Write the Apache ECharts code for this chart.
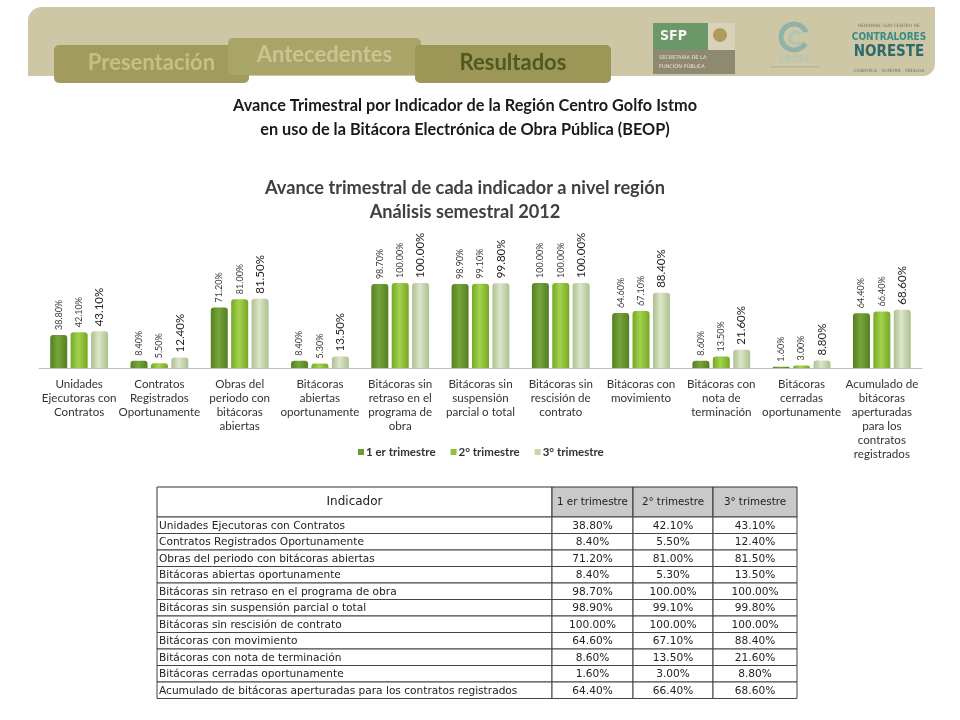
<!DOCTYPE html>
<html><head><meta charset="utf-8">
<script src="https://cdn.jsdelivr.net/npm/echarts@6/dist/echarts.min.js"></script>
<style>html,body{margin:0;padding:0;background:#fff}#c{width:960px;height:720px}</style>
</head><body><div id="c"></div>
<script>
const categories = [
  'Unidades\nEjecutoras con\nContratos',
  'Contratos\nRegistrados\nOportunamente',
  'Obras del\nperiodo con\nbitácoras\nabiertas',
  'Bitácoras\nabiertas\noportunamente',
  'Bitácoras sin\nretraso en el\nprograma de\nobra',
  'Bitácoras sin\nsuspensión\nparcial o total',
  'Bitácoras sin\nrescisión de\ncontrato',
  'Bitácoras con\nmovimiento',
  'Bitácoras con\nnota de\nterminación',
  'Bitácoras\ncerradas\noportunamente',
  'Acumulado de\nbitácoras\naperturadas\npara los\ncontratos\nregistrados'
];
const q1 = [38.8, 8.4, 71.2, 8.4, 98.7, 98.9, 100.0, 64.6, 8.6, 1.6, 64.4];
const q2 = [42.1, 5.5, 81.0, 5.3, 100.0, 99.1, 100.0, 67.1, 13.5, 3.0, 66.4];
const q3 = [43.1, 12.4, 81.5, 13.5, 100.0, 99.8, 100.0, 88.4, 21.6, 8.8, 68.6];
const seriesNames = ['1 er trimestre', '2° trimestre', '3° trimestre'];
const tableHeaders = ['Indicador', '1 er trimestre', '2° trimestre', '3° trimestre'];
const tabs = ['Presentación', 'Antecedentes', 'Resultados'];
const pageTitle = ['Avance Trimestral por Indicador de la Región Centro Golfo Istmo', 'en uso de la Bitácora Electrónica de Obra Pública (BEOP)'];
const chartTitle = ['Avance trimestral de cada indicador a nivel región', 'Análisis semestral 2012'];

const chart = echarts.init(document.getElementById('c'), null, {renderer: 'canvas'});
const fmt = v => v.toFixed(2) + '%';
const grad = (edge, mid) => new echarts.graphic.LinearGradient(0, 0, 1, 0, [
  {offset: 0, color: edge}, {offset: 0.45, color: mid}, {offset: 1, color: edge}]);
const seriesStyles = [
  {color: grad('#557f22', '#76a53a'), legend: '#6b9a2e', size: 9, lc: '#3a3a3a'},
  {color: grad('#76a825', '#a3d24e'), legend: '#8fc23a', size: 9, lc: '#3a3a3a'},
  {color: grad('#aebf90', '#dbe6c8'), legend: '#c5d6a8', size: 11.5, lc: '#222'}
];
const allData = [q1, q2, q3];

// ---------- graphic: header, table ----------
const g = [];
g.push({type: 'rect', shape: {x: 28, y: 7, width: 907, height: 69, r: [14, 0, 12, 0]}, style: {fill: '#cdc7a6'}, z: 1});
const tabBoxes = [
  {x: 54, y: 45, w: 195, h: 38, fill: '#a19c5e', tc: '#c6bf86', ty: 63, z: 2},
  {x: 228, y: 38, w: 193, h: 37, fill: '#a9a468', tc: '#cac493', ty: 55, z: 3},
  {x: 415, y: 45, w: 196, h: 38, fill: '#9c9657', tc: '#4e5a1f', ty: 63, z: 4}
];
tabBoxes.forEach((t, i) => {
  g.push({type: 'rect', shape: {x: t.x, y: t.y, width: t.w, height: t.h, r: 5}, style: {fill: t.fill}, z: t.z});
  g.push({type: 'text', x: t.x + t.w / 2, y: t.ty, z: t.z, style: {text: tabs[i], fill: t.tc, font: 'bold 22px Lato', align: 'center', verticalAlign: 'middle'}});
});
// SFP logo
g.push({type: 'rect', shape: {x: 653, y: 23, width: 55, height: 27}, style: {fill: '#6a9868'}, z: 2});
g.push({type: 'text', x: 660, y: 36, z: 3, style: {text: 'SFP', fill: '#f4f4f0', font: 'bold 14px "DejaVu Sans Condensed", "DejaVu Sans"', verticalAlign: 'middle'}});
g.push({type: 'rect', shape: {x: 708, y: 23, width: 27, height: 27}, style: {fill: '#d8d2b8'}, z: 2});
g.push({type: 'circle', shape: {cx: 720, cy: 35, r: 7}, style: {fill: '#b09a60'}, z: 3});
g.push({type: 'rect', shape: {x: 653, y: 50, width: 82, height: 24}, style: {fill: '#8e8a72'}, z: 2});
g.push({type: 'text', x: 659, y: 58, z: 3, style: {text: 'SECRETARÍA DE LA', fill: '#e6e2d0', font: '5px "DejaVu Sans"', verticalAlign: 'middle'}});
g.push({type: 'text', x: 659, y: 67, z: 3, style: {text: 'FUNCIÓN PÚBLICA', fill: '#e6e2d0', font: '5px "DejaVu Sans"', verticalAlign: 'middle'}});
// CPCEF logo
g.push({type: 'arc', shape: {cx: 794, cy: 37, r: 13, startAngle: 0.5, endAngle: 5.9}, style: {stroke: '#8fb3a8', lineWidth: 5, fill: null}, z: 2});
g.push({type: 'arc', shape: {cx: 796, cy: 38, r: 6, startAngle: 0.7, endAngle: 5.6}, style: {stroke: '#a9c6bc', lineWidth: 3, fill: null}, z: 2});
g.push({type: 'text', x: 795, y: 60, z: 2, style: {text: 'CPCEF', fill: '#b3c7b4', font: 'bold 9px "DejaVu Sans"', align: 'center', verticalAlign: 'middle'}});
g.push({type: 'rect', shape: {x: 770, y: 66, width: 50, height: 1.5}, style: {fill: '#b8b69c'}, z: 2});
// Contralores noreste logo
g.push({type: 'text', x: 889, y: 26, z: 2, style: {text: 'REGIONAL SUR CENTRO DE', fill: '#6f776c', font: '4.5px "DejaVu Sans"', align: 'center', verticalAlign: 'middle'}});
g.push({type: 'text', x: 889, y: 37, z: 2, style: {text: 'CONTRALORES', fill: '#3a8b86', font: 'bold 10px "DejaVu Sans Condensed", "DejaVu Sans"', align: 'center', verticalAlign: 'middle'}});
g.push({type: 'text', x: 889, y: 52, z: 2, style: {text: 'NORESTE', fill: '#2d6a6e', font: 'bold 15px "DejaVu Sans Condensed", "DejaVu Sans"', align: 'center', verticalAlign: 'middle'}});
g.push({type: 'text', x: 889, y: 71, z: 2, style: {text: 'COAHUILA · SONORA · SINALOA', fill: '#6f776c', font: '4.5px "DejaVu Sans"', align: 'center', verticalAlign: 'middle'}});
// page title
pageTitle.forEach((t, i) => g.push({type: 'text', x: 465, y: 106 + i * 24, z: 2,
  style: {text: t, fill: '#1a1a1a', font: 'bold 16.3px Lato', align: 'center', verticalAlign: 'middle'}}));
// chart title
chartTitle.forEach((t, i) => g.push({type: 'text', x: 465, y: 188 + i * 24, z: 2,
  style: {text: t, fill: '#404040', font: 'bold 18.2px Lato', align: 'center', verticalAlign: 'middle'}}));

// table
const colX = [157, 552, 633, 713, 797];
const headTop = 487, headH = 30, rowH = 16.5;
const tableNames = categories.map(s => s.replace(/\n/g, ' '));
tableHeaders.forEach((h, c) => {
  g.push({type: 'rect', shape: {x: colX[c], y: headTop, width: colX[c + 1] - colX[c], height: headH},
    style: {fill: c === 0 ? '#fff' : '#c9c9c9', stroke: '#333', lineWidth: 1}, z: 2});
  g.push({type: 'text', x: (colX[c] + colX[c + 1]) / 2, y: headTop + headH / 2, z: 3,
    style: {text: h, fill: '#222', font: (c === 0 ? '12px' : '10.3px') + ' "DejaVu Sans"', align: 'center', verticalAlign: 'middle'}});
});
tableNames.forEach((name, r) => {
  const y = headTop + headH + r * rowH;
  const vals = [name, fmt(q1[r]), fmt(q2[r]), fmt(q3[r])];
  vals.forEach((v, c) => {
    g.push({type: 'rect', shape: {x: colX[c], y: y, width: colX[c + 1] - colX[c], height: rowH},
      style: {fill: '#fff', stroke: '#444', lineWidth: 1}, z: 2});
    g.push({type: 'text', x: c === 0 ? colX[c] + 2 : (colX[c] + colX[c + 1]) / 2, y: y + rowH / 2 + 0.5, z: 3,
      style: {text: v, fill: '#222', font: '10.6px "DejaVu Sans"', align: c === 0 ? 'left' : 'center', verticalAlign: 'middle'}});
  });
});

const option = {
  backgroundColor: '#fff',
  animation: false,
  grid: {left: 39, right: 38, top: 283, bottom: 352, containLabel: false},
  legend: {
    data: seriesNames.map((n, i) => ({name: n, itemStyle: {color: seriesStyles[i].legend}})),
    left: 353, top: 441, itemWidth: 6, itemHeight: 6, itemGap: 15, icon: 'rect',
    textStyle: {fontFamily: 'Lato', fontWeight: 'bold', fontSize: 11.5, color: '#333', padding: [0, 0, 0, -3]}
  },
  xAxis: {
    type: 'category', data: categories,
    axisLine: {lineStyle: {color: '#c0c0c0', width: 1}},
    axisTick: {show: false},
    axisLabel: {interval: 0, margin: 9, fontFamily: 'Lato', fontSize: 11.6, lineHeight: 14, color: '#333'}
  },
  yAxis: {type: 'value', min: 0, max: 100, show: false, splitLine: {show: false}},
  series: seriesNames.map((n, i) => ({
    name: n, type: 'bar', data: allData[i], barWidth: 17, barGap: '20%',
    itemStyle: {color: seriesStyles[i].color, borderRadius: [3, 3, 0, 0]},
    label: {show: true, position: 'top', rotate: 90, align: 'left', verticalAlign: 'middle', distance: 5,
      formatter: p => fmt(p.value), fontFamily: 'Lato', fontSize: seriesStyles[i].size, color: seriesStyles[i].lc}
  })),
  graphic: g
};
chart.setOption(option);
</script></body></html>
